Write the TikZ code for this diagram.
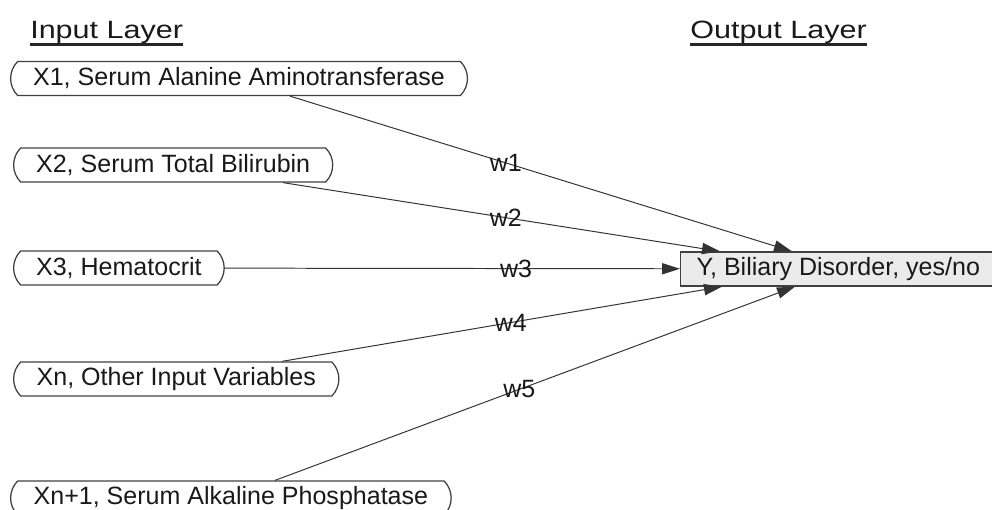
\documentclass[tikz,border=0pt]{standalone}
\usepackage{fontspec}
\setmainfont{Liberation Sans}
\newfontfamily\layerfont[FakeStretch=1.22]{Liberation Sans}
\usetikzlibrary{positioning, arrows.meta, shapes.misc, calc}
\tikzset{
  x=0.025cm, y=-0.025cm,
  >={Triangle[length=0.45cm,width=0.28cm]},
  invar/.style={rounded rectangle, rounded rectangle arc length=90, draw=black!75,
    line width=0.9pt, inner xsep=0.5cm, minimum height=0.85cm,
    font=\fontsize{17.8}{20}\selectfont, text=black!90, anchor=west},
  outvar/.style={rectangle, draw=black!75, fill=black!8, line width=0.9pt,
    inner xsep=0.4cm, minimum height=0.85cm,
    font=\fontsize{17.8}{20}\selectfont, text=black!90, anchor=west},
  layer/.style={font=\layerfont\fontsize{17.8}{20}\selectfont, text=black!90,
    inner sep=0pt, anchor=base west},
  link/.style={->, draw=black!80, line width=0.7pt},
  weight/.style={font=\fontsize{17.8}{20}\selectfont, text=black!90, inner sep=0pt},
}
\begin{document}
\begin{tikzpicture}
      \useasboundingbox (0,0) rectangle (992,510);

      \node[layer] (inlayer)  at (30,39)  {Input Layer};
      \node[layer] (outlayer) at (690,39) {Output Layer};
      \draw[line width=1.6pt, black!85] ([yshift=-4pt]inlayer.base west) -- ([yshift=-4pt]inlayer.base east);
      \draw[line width=1.6pt, black!85] ([yshift=-4pt]outlayer.base west) -- ([yshift=-4pt]outlayer.base east);

      \node[invar]  (x1)   at (10,78.5) {X1, Serum Alanine Aminotransferase};
      \node[invar]  (x2)   at (13,165)  {X2, Serum Total Bilirubin};
      \node[invar]  (x3)   at (13,268)  {X3, Hematocrit};
      \node[invar]  (xn)   at (13,379)  {Xn, Other Input Variables};
      \node[invar]  (xn1)  at (10,498)  {Xn+1, Serum Alkaline Phosphatase};
      \node[outvar] (yout) at (680,269) {Y, Biliary Disorder, yes/no};

      \draw ($(x1.west |- x1.south)+(280,0)$)  edge[link] node[weight,pos=0.43]{w1}  ($(yout.north west)+(112,0)$)
            ($(x2.west |- x2.south)+(270,0)$)  edge[link] node[weight,pos=0.51]{w2}  ($(yout.north west)+(40,0)$)
            (x3)                               edge[link] node[weight,pos=0.64]{w3}  (yout)
            ($(xn.west |- xn.north)+(269,0)$)  edge[link] node[weight,pos=0.52]{w4}  ($(yout.south west)+(42,0)$)
            ($(xn1.west |- xn1.north)+(265,0)$) edge[link] node[weight,pos=0.47]{w5} ($(yout.south west)+(115,0)$);
    \end{tikzpicture}
\end{document}
